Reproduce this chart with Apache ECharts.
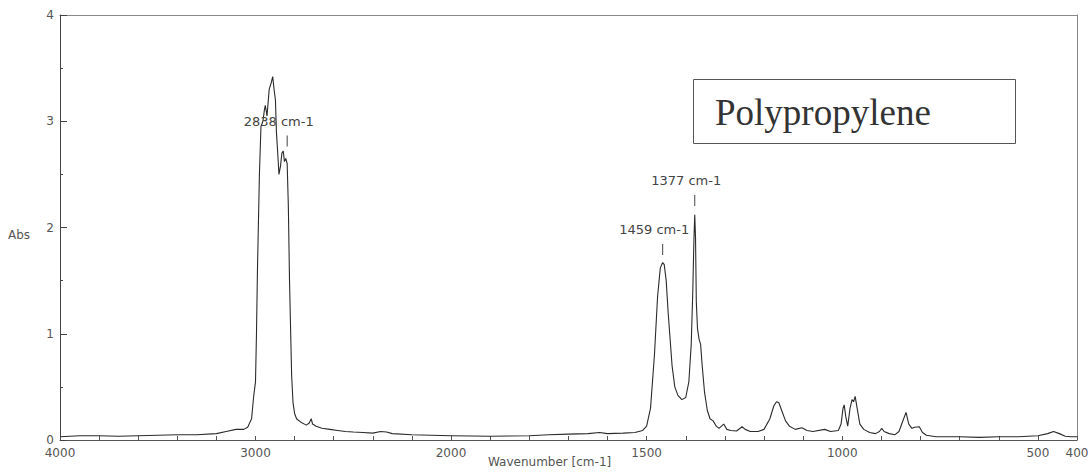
<!DOCTYPE html>
<html>
<head>
<meta charset="utf-8">
<script src="https://cdn.jsdelivr.net/npm/echarts@6/dist/echarts.min.js"></script>
<style>
html,body{margin:0;padding:0;background:#fff;}
#chart{width:1092px;height:472px;}
</style>
</head>
<body>
<div id="chart"></div>
<script>
// ---- data (wavenumber in cm-1, absorbance) ----
const wavenumbers = [
  4000,3900,3800,3700,3600,3500,3400,3300,3200,3150,3100,3060,3040,3020,3010,
  3000,2995,2990,2980,2972,2962,2955,2950,2941,2930,2920,2912,2905,2898,2893,
  2887,2880,2872,2865,2858,2852,2845,2838,2832,2826,2820,2815,2808,2800,2790,
  2770,2740,2725,2715,2708,2690,2660,2620,2580,2540,2500,2450,2400,2360,2330,
  2300,2200,2100,2000,
  1900,1800,1750,1700,1650,1620,1600,1560,1530,1510,1500,1490,1480,1472,1465,
  1459,1455,1450,1445,1440,1435,1428,1420,1410,1400,1392,1386,1382,1379,1377,
  1375,1373,1370,1366,1362,1358,1352,1345,1338,1330,1322,1315,1303,1295,1285,
  1270,1256,1248,1235,1215,1200,1185,1175,1168,1162,1155,1145,1135,1120,1103,
  1090,1075,1045,1030,1010,1003,998,995,991,986,980,975,971,967,962,
  955,945,930,915,905,899,893,880,865,855,848,837,830,822,815,
  803,795,785,760,700,650,600,550,500,475,460,445,430,415,400
];
const absorbance = [
  0.03,0.04,0.04,0.035,0.04,0.045,0.05,0.05,0.06,0.08,0.10,0.10,0.12,0.20,0.40,
  0.55,1.0,1.6,2.5,2.95,3.0,3.1,3.15,3.05,3.3,3.36,3.42,3.3,3.2,2.9,
  2.72,2.5,2.58,2.7,2.72,2.62,2.65,2.6,2.2,1.5,1.0,0.6,0.35,0.25,0.2,
  0.17,0.14,0.16,0.2,0.15,0.13,0.11,0.10,0.09,0.08,0.075,0.07,0.065,0.08,0.075,
  0.06,0.05,0.045,0.04,
  0.035,0.04,0.05,0.055,0.06,0.07,0.06,0.065,0.07,0.09,0.13,0.3,0.8,1.35,1.62,
  1.67,1.65,1.5,1.2,0.95,0.7,0.5,0.42,0.38,0.4,0.55,0.9,1.4,1.9,2.12,
  1.9,1.3,1.05,0.95,0.9,0.7,0.45,0.28,0.2,0.18,0.13,0.11,0.15,0.10,0.09,
  0.085,0.125,0.10,0.08,0.08,0.10,0.2,0.32,0.36,0.35,0.28,0.18,0.13,0.10,0.115,
  0.09,0.08,0.10,0.08,0.09,0.15,0.30,0.33,0.22,0.13,0.30,0.38,0.36,0.41,0.30,
  0.15,0.10,0.07,0.06,0.08,0.11,0.08,0.06,0.05,0.08,0.15,0.26,0.15,0.11,0.12,
  0.125,0.07,0.045,0.03,0.03,0.025,0.03,0.03,0.04,0.06,0.08,0.06,0.035,0.03,0.03
];
const xLabelsHigh = [4000, 3000, 2000];
const xLabelsLow = [1500, 1000, 500, 400];
const yTickLabels = [0, 1, 2, 3, 4];
const peakNames = ['2838 cm-1', '1459 cm-1', '1377 cm-1'];
const peakWn = [2838, 1459, 1377];
const peakAbs = [2.72, 1.70, 2.16];
const sampleName = 'Polypropylene';

// ---- build series data ----
const high = [], low = [];
wavenumbers.forEach((w, i) => {
  if (w >= 2000) high.push([w, absorbance[i]]);
  if (w <= 2000) low.push([w, absorbance[i]]);
});
function peakMarks(range) {
  const out = [];
  peakWn.forEach((w, i) => {
    if (range(w)) out.push({
      coord: [w, peakAbs[i]],
      label: { formatter: peakNames[i] }
    });
  });
  return out;
}
const markCfg = (data) => ({
  symbol: 'rect',
  symbolSize: [1, 11],
  symbolOffset: [0, -10],
  itemStyle: { color: '#444' },
  silent: true,
  animation: false,
  label: {
    show: true,
    position: [-43, -21],
    color: '#444',
    fontSize: 13,
    fontFamily: 'DejaVu Sans'
  },
  data: data
});

const labelFont = { fontSize: 12, color: '#555', fontFamily: 'DejaVu Sans' };
const chart = echarts.init(document.getElementById('chart'), null, { renderer: 'svg' });
chart.setOption({
  animation: false,
  backgroundColor: '#fff',
  grid: [
    { left: 60, top: 15, width: 391, height: 425 },
    { left: 451, top: 15, width: 626, height: 425 }
  ],
  xAxis: [
    { gridIndex: 0, type: 'value', min: 2000, max: 4000, interval: 200, inverse: true,
      axisLine: { lineStyle: { color: '#555', width: 1 } },
      axisTick: { inside: true, length: 4, lineStyle: { color: '#555' } },
      axisLabel: Object.assign({ margin: 7, showMinLabel: true, showMaxLabel: true,
        formatter: v => xLabelsHigh.includes(v) ? String(v) : '' }, labelFont),
      splitLine: { show: false } },
    { gridIndex: 1, type: 'value', min: 400, max: 2000, interval: 100, inverse: true,
      axisLine: { lineStyle: { color: '#555', width: 1 } },
      axisTick: { inside: true, length: 4, lineStyle: { color: '#555' } },
      axisLabel: Object.assign({ margin: 7, showMinLabel: true, showMaxLabel: false,
        formatter: v => xLabelsLow.includes(v) ? String(v) : '' }, labelFont),
      splitLine: { show: false } },
    { gridIndex: 0, type: 'value', position: 'top', min: 2000, max: 4000, inverse: true,
      axisLine: { lineStyle: { color: '#888' } }, axisTick: { show: false },
      axisLabel: { show: false }, splitLine: { show: false } },
    { gridIndex: 1, type: 'value', position: 'top', min: 400, max: 2000, inverse: true,
      axisLine: { lineStyle: { color: '#888' } }, axisTick: { show: false },
      axisLabel: { show: false }, splitLine: { show: false } }
  ],
  yAxis: [
    { gridIndex: 0, type: 'value', min: 0, max: 4, interval: 1,
      axisLine: { show: true, lineStyle: { color: '#444', width: 1 } },
      axisTick: { show: true, inside: true, length: 7, lineStyle: { color: '#444' } },
      minorTick: { show: true, splitNumber: 2, length: 3, lineStyle: { color: '#444' } },
      axisLabel: Object.assign({ margin: 6,
        formatter: v => yTickLabels.includes(v) ? String(v) : '' }, labelFont),
      splitLine: { show: false } },
    { gridIndex: 1, type: 'value', min: 0, max: 4, position: 'right',
      axisLine: { show: true, lineStyle: { color: '#888' } }, axisTick: { show: false },
      axisLabel: { show: false }, splitLine: { show: false } }
  ],
  series: [
    { type: 'line', xAxisIndex: 0, yAxisIndex: 0, data: high, showSymbol: false,
      lineStyle: { color: '#2b2b2b', width: 1.1 }, z: 3,
      markPoint: markCfg(peakMarks(w => w >= 2000)) },
    { type: 'line', xAxisIndex: 1, yAxisIndex: 1, data: low, showSymbol: false,
      lineStyle: { color: '#2b2b2b', width: 1.1 }, z: 3,
      markPoint: markCfg(peakMarks(w => w < 2000)) }
  ],
  graphic: [
    { type: 'text', left: 8, top: 229,
      style: { text: 'Abs', fontSize: 12, fill: '#555', fontFamily: 'DejaVu Sans' } },
    { type: 'text', left: 488, top: 456,
      style: { text: 'Wavenumber [cm-1]', fontSize: 12, fill: '#555', fontFamily: 'DejaVu Sans' } },
    { type: 'rect', shape: { x: 693.5, y: 79.5, width: 322, height: 64 },
      style: { fill: '#fff', stroke: '#555', lineWidth: 1 }, z: 10 },
    { type: 'text', x: 715, y: 112, z: 11,
      style: { text: sampleName, fontSize: 37, fill: '#333',
        fontFamily: 'Liberation Serif', verticalAlign: 'middle' } }
  ]
});
</script>
</body>
</html>
